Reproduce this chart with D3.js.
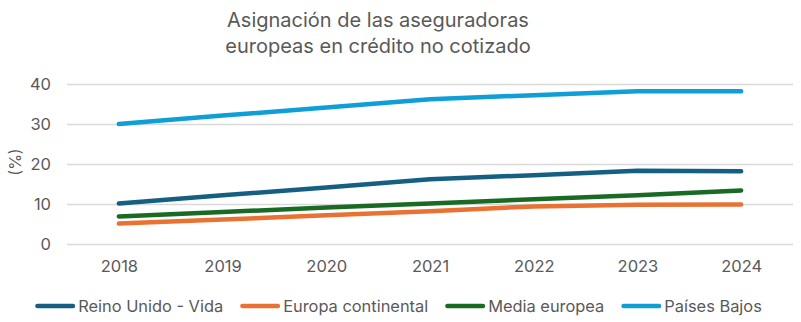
<!DOCTYPE html>
<html>
<head>
<meta charset="utf-8">
<script src="https://cdn.jsdelivr.net/npm/d3@7"></script>
<style>
  html, body { margin: 0; padding: 0; background: #fff; }
  svg text { font-family: "Inter", "Noto Sans", sans-serif; fill: #595959; }
</style>
</head>
<body>
<svg id="chart" width="801" height="322"></svg>
<script>
// Asignación al crédito no cotizado, % de la cartera
const years = ["2018", "2019", "2020", "2021", "2022", "2023", "2024"];
const seriesNames = ["Reino Unido - Vida", "Europa continental", "Media europea", "Países Bajos"];
const reinoUnidoVida = [10.1, 12.2, 14.1, 16.2, 17.2, 18.3, 18.2];
const europaContinental = [5.1, 6.1, 7.2, 8.2, 9.4, 9.8, 9.9];
const mediaEuropea = [6.9, 8.0, 9.1, 10.1, 11.2, 12.2, 13.4];
const paisesBajos = [30, 32.1, 34.1, 36.2, 37.2, 38.2, 38.2];
const yTicks = [0, 10, 20, 30, 40];
const colors = ["#156082", "#E97132", "#196B24", "#0F9ED5"];
const titleLines = ["Asignación de las aseguradoras", "europeas en crédito no cotizado"];

const seriesValues = [reinoUnidoVida, europaContinental, mediaEuropea, paisesBajos];
const series = seriesNames.map((name, i) => ({ name, values: seriesValues[i], color: colors[i] }));

const svg = d3.select("#chart");
const plot = { left: 67, right: 793, top: 84, bottom: 244 };

const x = d3.scalePoint().domain(years).range([plot.left, plot.right]).padding(0.5);
const y = d3.scaleLinear().domain([0, 40]).range([plot.bottom, plot.top]);

// Title
svg.append("text")
  .attr("text-anchor", "middle")
  .attr("font-size", 20)
  .selectAll("tspan").data(titleLines).join("tspan")
  .attr("x", 378)
  .attr("y", (d, i) => 27 + i * 26)
  .text(d => d);

// Horizontal gridlines + y tick labels
const yAxis = d3.axisLeft(y).tickValues(yTicks).tickSize(-(plot.right - plot.left)).tickPadding(16);
const gy = svg.append("g").attr("transform", `translate(${plot.left},0)`).call(yAxis);
gy.select(".domain").remove();
gy.selectAll(".tick line").attr("stroke", "#d9d9d9").attr("stroke-width", 1.5);
gy.selectAll(".tick text").attr("font-size", 16.5).attr("fill", "#595959");

// x tick labels
const xAxis = d3.axisBottom(x).tickSize(0).tickPadding(0);
const gx = svg.append("g").attr("transform", `translate(0,${plot.bottom})`).call(xAxis);
gx.select(".domain").remove();
gx.selectAll(".tick text").attr("font-size", 16.5).attr("fill", "#595959")
  .attr("y", 28).attr("dy", null);

// Y axis title
svg.append("text")
  .attr("transform", "translate(15,162) rotate(-90)")
  .attr("text-anchor", "middle")
  .attr("dy", "0.35em")
  .attr("font-size", 16)
  .text("(%)");

// Series lines
const line = d3.line().x((d, i) => x(years[i])).y(d => y(d));
svg.append("g").selectAll("path").data(series).join("path")
  .attr("d", d => line(d.values))
  .attr("fill", "none")
  .attr("stroke", d => d.color)
  .attr("stroke-width", 4.5)
  .attr("stroke-linecap", "round")
  .attr("stroke-linejoin", "round");

// Legend
const legend = svg.append("g");
const cap = 2.25, sampleW = 40, textGap = 3, entryGap = 17, legendY = 306;
const items = legend.selectAll("g").data(series).join("g");
items.append("line")
  .attr("x1", cap).attr("x2", sampleW - cap)
  .attr("y1", 0).attr("y2", 0)
  .attr("stroke", d => d.color)
  .attr("stroke-width", 4.5)
  .attr("stroke-linecap", "round");
items.append("text")
  .attr("x", sampleW + textGap)
  .attr("dy", "0.35em")
  .attr("font-size", 16.4)
  .text(d => d.name);
let cursor = 0;
items.each(function () {
  const g = d3.select(this);
  const w = sampleW + textGap + g.select("text").node().getComputedTextLength();
  g.attr("data-x", cursor);
  cursor += w + entryGap;
});
const total = cursor - entryGap;
const startX = 398.5 - total / 2;
items.attr("transform", function () {
  return `translate(${startX + (+d3.select(this).attr("data-x"))},${legendY})`;
});
</script>
</body>
</html>
